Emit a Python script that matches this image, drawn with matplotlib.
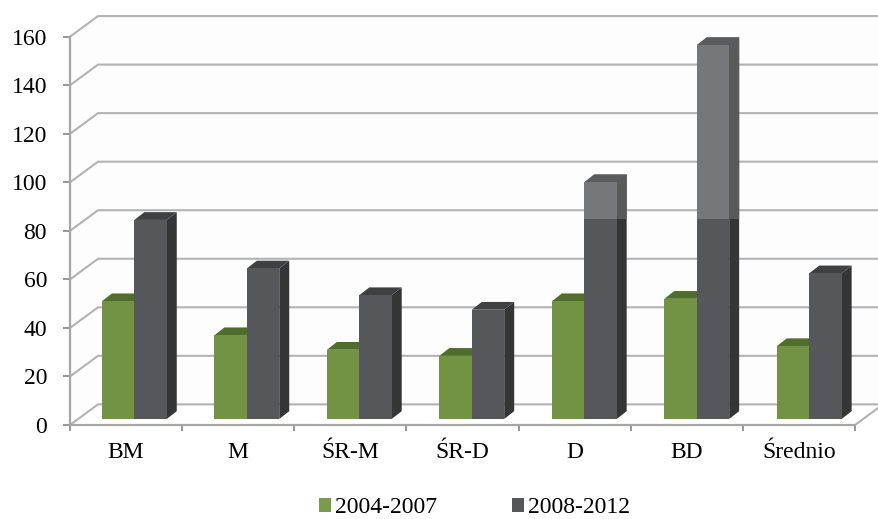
import matplotlib
matplotlib.use("Agg")
import matplotlib.pyplot as plt
from matplotlib.patches import Polygon, Rectangle

categories = ["BM", "M", "ŚR-M", "ŚR-D", "D", "BD", "Średnio"]
series_2004_2007 = [48.5, 34.5, 28.5, 26, 48.5, 49.5, 30]
series_2008_2012 = [82, 62, 51, 45, 97.5, 154, 60]
y_ticks = list(range(0, 161, 20))

plt.rcParams["font.family"] = ["Liberation Serif"]
W, H = 879, 519
fig = plt.figure(figsize=(W / 100, H / 100), dpi=100, facecolor="white")
L, R, B, T = 70, 855, 425, 36.7
ax = fig.add_axes([L / W, 1 - B / H, (R - L) / W, (B - T) / H])
ax.set_xlim(0, len(categories))
ax.set_ylim(0, 160)
ax.patch.set_visible(False)
for s in ax.spines.values():
    s.set_visible(False)

GRID = "#b3b3b5"
wall_dx, wall_dy = 0.25, 8.5

# walls and floor
ax.add_patch(Polygon([(wall_dx, wall_dy), (wall_dx, 160 + wall_dy), (7 + wall_dx, 160 + wall_dy), (7 + wall_dx, wall_dy)],
                     closed=True, fc="#fdfdfd", ec="none", clip_on=False, zorder=0))
ax.add_patch(Polygon([(0, 0), (0, 160), (wall_dx, 160 + wall_dy), (wall_dx, wall_dy)],
                     closed=True, fc="#fdfdfd", ec="none", clip_on=False, zorder=0))
for v in y_ticks:
    ax.plot([0, wall_dx, 7 + wall_dx], [v, v + wall_dy, v + wall_dy], color=GRID, lw=1.5,
            clip_on=False, zorder=1, solid_joinstyle="miter")
ax.plot([7, 7 + wall_dx], [0, wall_dy], color=GRID, lw=1.5, clip_on=False, zorder=1)
ax.plot([0, 0], [0, 160], color="#a6a6a8", lw=1.6, clip_on=False, zorder=2)
ax.plot([0, 7], [0, 0], color="#a6a6a8", lw=1.6, clip_on=False, zorder=2)

# ticks and labels
ax.set_yticks(y_ticks)
ax.set_yticklabels([str(v) for v in y_ticks], fontsize=17, color="#000000")
ax.set_xticks(range(len(categories) + 1))
ax.set_xticklabels([""] * (len(categories) + 1))
ax.tick_params(axis="y", length=5, width=1.3, color="#8f8f91", pad=11.5)
ax.tick_params(axis="x", length=4, width=1.3, color="#8f8f91")
for i, c in enumerate(categories):
    ax.text(i + 0.5, -11.3, c, ha="center", va="center", fontsize=17, color="#000000")

# 3D bars
base = 2.5
bar_x, bar_w, step = 0.285, 0.289, 1.003
dep_x, dep_y = 0.089, 3.2
LIGHT_FROM = 84.9


def bar3d(x0, v, front, side, top, z):
    x1 = x0 + bar_w
    y1 = base + v
    polys = [
        Polygon([(x1, base), (x1 + dep_x, base + dep_y), (x1 + dep_x, y1 + dep_y), (x1, y1)], closed=True, fc=side, ec="none", zorder=z),
        Polygon([(x0, y1), (x0 + dep_x, y1 + dep_y), (x1 + dep_x, y1 + dep_y), (x1, y1)], closed=True, fc=top, ec="none", zorder=z),
        Polygon([(x0, base), (x0, y1), (x1, y1), (x1, base)], closed=True, fc=front, ec="none", zorder=z),
    ]
    for p in polys:
        ax.add_patch(p)
    return polys


for i, (a, b) in enumerate(zip(series_2004_2007, series_2008_2012)):
    left = i * step + bar_x
    bar3d(left, a, "#729343", "#4f6b2b", "#4f6e2c", 3 + i * 0.1)
    polys = bar3d(left + bar_w, b, "#55575b", "#333537", "#3f4042", 3.05 + i * 0.1)
    if b + base > LIGHT_FROM + dep_y:
        for p, col in zip(polys, ["#595a5c", "#5a5b5d", "#76777a"]):
            over = Rectangle((i, LIGHT_FROM), 1.2, 160, fc=col, ec="none", zorder=3.06 + i * 0.1)
            ax.add_patch(over)
            over.set_clip_path(p)

# legend
handles = [Rectangle((0, 0), 1, 1, fc="#7a9b4c"), Rectangle((0, 0), 1, 1, fc="#55575b")]
fig.legend(handles, ["2004-2007", "2008-2012"], loc="center", bbox_to_anchor=(474.5 / W, 1 - 507.5 / H),
           ncol=2, frameon=False, fontsize=17, handlelength=0.52, handleheight=0.52,
           handletextpad=0.17, columnspacing=3.15, borderpad=0, labelcolor="#000000")

fig.savefig("out.png", dpi=100, facecolor="white")
